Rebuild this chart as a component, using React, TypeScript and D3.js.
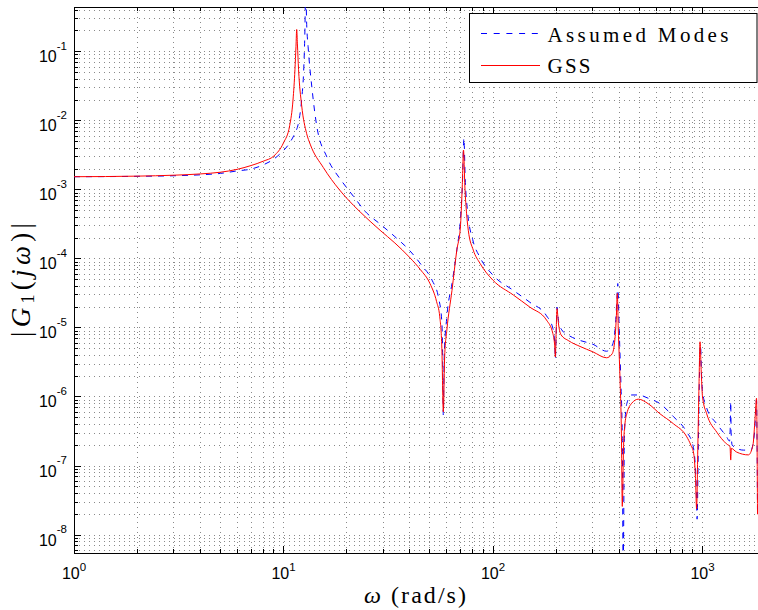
import React from 'react';
import * as d3 from 'd3';

// ---------- data ----------
const xMajorTicks = [1, 10, 100, 1000];
const xTickExponents = ['0', '1', '2', '3'];
const yMajorTicks = [1e-1, 1e-2, 1e-3, 1e-4, 1e-5, 1e-6, 1e-7, 1e-8];
const yTickExponents = ['-1', '-2', '-3', '-4', '-5', '-6', '-7', '-8'];

const seriesNames = ['Assumed Modes', 'GSS'];

// Assumed Modes (blue dashed): [omega (rad/s), |G1(jw)|]
const assumedModes: [number, number][] = [
  [1, 1.55e-3], [2, 1.57e-3], [3, 1.6e-3], [4, 1.65e-3], [5, 1.73e-3], [6, 1.88e-3],
  [7, 2.0e-3], [8, 2.3e-3], [9, 2.8e-3], [9.6, 3.3e-3], [10.7, 4.8e-3], [11.3, 6.5e-3],
  [11.8, 9.5e-3], [12.2, 0.02], [12.5, 0.06], [12.65, 0.2], [12.76, 0.9], [12.9, 0.25],
  [13.1, 0.12], [13.7, 0.028], [14.4, 8.5e-3], [16.1, 3.0e-3], [18.6, 1.45e-3], [20, 1.08e-3],
  [21.9, 7.6e-4], [24.5, 4.9e-4], [28.9, 3.2e-4], [34, 2.1e-4], [40.2, 1.3e-4], [45.6, 8.1e-5],
  [51.2, 4.9e-5], [55, 2.7e-5], [56.9, 1.3e-5], [57.5, 4e-6], [57.9, 5.5e-7], [58.5, 4e-6],
  [60.2, 1.45e-5], [63.7, 4.4e-5], [67.2, 1.35e-4], [70, 4e-4], [71.5, 1.3e-3], [72.6, 5.6e-3],
  [73.7, 1.4e-3], [75.5, 5e-4], [80, 1.9e-4], [86.7, 1.05e-4], [100, 5.8e-5], [125, 3.5e-5],
  [150, 2.35e-5], [180, 1.5e-5], [193, 9.9e-6], [197, 6e-6], [198.4, 3.6e-6], [200.5, 1e-5],
  [202, 2e-5], [206, 1.2e-5], [215, 9e-6], [233, 7.6e-6], [260, 6.6e-6], [300, 5.8e-6],
  [348, 4.6e-6], [370, 5.5e-6], [383, 1e-5], [390, 2.5e-5], [394, 4.4e-5], [400, 1e-5],
  [408, 1.5e-6], [414, 2.5e-7], [418, 3e-9], [424, 3e-7], [435, 8e-7], [459, 1.07e-6],
  [494, 1.07e-6], [550, 9.6e-7], [627, 8e-7], [726, 5.2e-7], [841, 3.1e-7], [900, 2e-7],
  [930, 7e-8], [942, 1.7e-8], [955, 2e-7], [965, 1.5e-6], [978, 5.6e-6], [990, 2e-6],
  [1000, 1.2e-6], [1047, 6.9e-7], [1169, 4.1e-7], [1303, 2.65e-7], [1345, 2.3e-7], [1357, 4e-7],
  [1363, 8.6e-7], [1370, 3e-7], [1385, 2e-7], [1570, 1.7e-7], [1700, 1.7e-7], [1770, 3e-7],
  [1810, 9e-7], [1830, 2e-8],
];

// GSS (red solid): [omega (rad/s), |G1(jw)|]
const gss: [number, number][] = [
  [1, 1.55e-3], [2, 1.58e-3], [3, 1.63e-3], [4, 1.7e-3], [5, 1.8e-3], [6, 1.98e-3],
  [7, 2.25e-3], [8, 2.6e-3], [9, 3.1e-3], [10, 4.8e-3], [10.7, 8.5e-3], [11.1, 0.02],
  [11.34, 0.055], [11.47, 0.12], [11.56, 0.21], [11.65, 0.13], [11.8, 0.055], [12.2, 0.017],
  [12.9, 6.5e-3], [13.4, 4.6e-3], [15.5, 2.1e-3], [18.5, 1.0e-3], [20, 7.6e-4], [23.2, 4.8e-4],
  [28.9, 2.6e-4], [34, 1.7e-4], [40, 1.05e-4], [45, 7e-5], [50, 4.4e-5], [53.8, 2.4e-5],
  [55.7, 1.45e-5], [57, 5e-6], [57.9, 6.1e-7], [58.8, 4e-6], [60.2, 9.3e-6], [63.7, 3.5e-5],
  [67.2, 1.35e-4], [69.8, 2.8e-4], [71.3, 1.1e-3], [72.3, 3.77e-3], [73.4, 1.1e-3], [74.8, 4.5e-4],
  [76.2, 2.6e-4], [80.5, 1.34e-4], [86.7, 8.6e-5], [100, 4.9e-5], [125, 3.0e-5], [150, 2.0e-5],
  [180, 1.3e-5], [193, 8.3e-6], [197, 5.5e-6], [198.4, 3.8e-6], [200, 8e-6], [202, 1.9e-5],
  [205, 1.2e-5], [211, 8e-6], [230, 6.5e-6], [260, 5.4e-6], [300, 4.5e-6], [348, 3.7e-6],
  [370, 4.2e-6], [382, 7e-6], [388, 1.5e-5], [392, 3.16e-5], [396, 1e-5], [404, 1.75e-6],
  [410, 3e-7], [414, 2.6e-8], [420, 2e-7], [426, 4e-7], [435, 5.7e-7], [459, 8.1e-7],
  [494, 9.3e-7], [550, 8e-7], [627, 5.7e-7], [726, 4.1e-7], [841, 2.65e-7], [880, 2e-7],
  [908, 1.5e-7], [925, 7e-8], [937, 2.4e-8], [950, 2e-7], [962, 1.5e-6], [973, 6.3e-6],
  [985, 2.5e-6], [1000, 1e-6], [1047, 5.7e-7], [1169, 3.1e-7], [1300, 2.1e-7], [1353, 1.9e-7],
  [1363, 1.22e-7], [1373, 1.8e-7], [1450, 1.6e-7], [1656, 1.45e-7], [1740, 2e-7], [1782, 5e-7],
  [1810, 9.6e-7], [1830, 2e-8],
];

const xDomain: [number, number] = [1, 2000];
const yDomain: [number, number] = [5.5e-9, 0.445];

// ---------- layout ----------
const W = 758;
const H = 610;
const PL = 74;
const PR = 765.6;
const PT = 7;
const PB = 553;

const TICK_FONT = "'Liberation Sans', Arial, Helvetica, sans-serif";
const SERIF = "'Liberation Serif', 'DejaVu Serif', serif";

export default function App() {
  const x = d3.scaleLog().domain(xDomain).range([PL, PR]);
  const y = d3.scaleLog().domain(yDomain).range([PB, PT]);

  const line = d3
    .line<[number, number]>()
    .x((d) => x(d[0]))
    .y((d) => y(d[1]))
    .curve(d3.curveMonotoneX);

  const xGrid: number[] = [];
  for (let k = 0; k <= 3; k++) for (let m = 1; m <= 9; m++) {
    const v = m * Math.pow(10, k);
    if (v >= xDomain[0] && v <= xDomain[1]) xGrid.push(v);
  }
  const yGrid: number[] = [];
  for (let k = -9; k <= -1; k++) for (let m = 1; m <= 9; m++) {
    const v = m * Math.pow(10, k);
    if (v >= yDomain[0] && v <= yDomain[1]) yGrid.push(v);
  }
  const isMajor = (v: number) => Math.abs(Math.log10(v) - Math.round(Math.log10(v))) < 1e-9;
  const cx = (v: number) => Math.floor(v) + 0.5;

  const legX = 469.5, legY = 13.5, legW = 287.5, legH = 69;

  return (
    <svg
      width={W}
      height={H}
      style={{ position: 'absolute', left: 0, top: 0, background: '#fff' }}
      xmlns="http://www.w3.org/2000/svg"
    >
      <rect x={0} y={0} width={W} height={H} fill="#fff" />
      <defs>
        <clipPath id="plotClip">
          <rect x={PL} y={PT} width={PR - PL} height={PB - PT} />
        </clipPath>
      </defs>

      {/* grid */}
      <g stroke="#8a8a8a" strokeWidth={1} strokeDasharray="1,4" fill="none">
        {xGrid.map((v, i) => (
          <line key={'gx' + i} x1={cx(x(v))} x2={cx(x(v))} y1={PT} y2={PB} />
        ))}
        {yGrid.map((v, i) => (
          <line key={'gy' + i} x1={PL} x2={PR} y1={cx(y(v))} y2={cx(y(v))} />
        ))}
      </g>

      {/* axes box */}
      <g stroke="#000" strokeWidth={1} fill="none">
        <line x1={PL + 0.5} x2={PL + 0.5} y1={PT} y2={PB + 1} />
        <line x1={PL} x2={PR} y1={PB + 0.5} y2={PB + 0.5} />
        <line x1={PL} x2={PR} y1={PT + 0.5} y2={PT + 0.5} />
        {xGrid.map((v, i) => {
          const len = isMajor(v) ? 7 : 4;
          const xx = cx(x(v));
          return (
            <g key={'tx' + i}>
              <line x1={xx} x2={xx} y1={PB} y2={PB - len} />
              <line x1={xx} x2={xx} y1={PT} y2={PT + len} />
            </g>
          );
        })}
        {yGrid.map((v, i) => {
          const len = isMajor(v) ? 7 : 4;
          const yy = cx(y(v));
          return <line key={'ty' + i} x1={PL} x2={PL + len} y1={yy} y2={yy} />;
        })}
      </g>

      {/* data */}
      <g clipPath="url(#plotClip)" fill="none">
        <path d={line(assumedModes) || ''} stroke="#0000ff" strokeWidth={1} strokeDasharray="6,6" />
        <path d={line(gss) || ''} stroke="#ff0000" strokeWidth={1} />
      </g>

      {/* tick labels */}
      <g fontFamily={TICK_FONT} fill="#000">
        {xMajorTicks.map((t, i) => (
          <text key={'xl' + i} x={x(t)} y={578.5} textAnchor="middle" fontSize={16}>
            <tspan>10</tspan>
            <tspan dy={-7.5} fontSize={11.5}>{xTickExponents[i]}</tspan>
          </text>
        ))}
        {yMajorTicks.map((t, i) => (
          <text key={'yl' + i} x={67} y={y(t) + 10.5} textAnchor="end" fontSize={16}>
            <tspan>10</tspan>
            <tspan dy={-12.2} fontSize={11.5}>{yTickExponents[i]}</tspan>
          </text>
        ))}
      </g>

      {/* axis labels */}
      <text
        x={415}
        y={603}
        textAnchor="middle"
        fontFamily={SERIF}
        fontSize={24}
        fill="#000"
        textLength={102}
        lengthAdjust="spacing"
      >
        <tspan fontStyle="italic">ω</tspan>
        <tspan> (rad/s)</tspan>
      </text>
      <text
        transform={`translate(30,280) rotate(-90)`}
        textAnchor="middle"
        fontFamily={SERIF}
        fontSize={27}
        fill="#000"
        textLength={114}
        lengthAdjust="spacing"
      >
        <tspan>|</tspan>
        <tspan fontStyle="italic">G</tspan>
        <tspan fontSize={18} dy={4}>1</tspan>
        <tspan dy={-4}>(</tspan>
        <tspan fontStyle="italic">jω</tspan>
        <tspan>)|</tspan>
      </text>

      {/* legend */}
      <g>
        <rect x={legX} y={legY} width={legW} height={legH} fill="#fff" stroke="#000" strokeWidth={1} />
        <line x1={481} x2={540} y1={33.5} y2={33.5} stroke="#0000ff" strokeWidth={1} strokeDasharray="6,6.7" />
        <line x1={481} x2={540} y1={65.5} y2={65.5} stroke="#ff0000" strokeWidth={1} />
        <text x={547.5} y={41.5} fontFamily={SERIF} fontSize={21} fill="#000" textLength={181} lengthAdjust="spacing">
          {seriesNames[0]}
        </text>
        <text x={547.5} y={73} fontFamily={SERIF} fontSize={21} fill="#000" textLength={43} lengthAdjust="spacing">
          {seriesNames[1]}
        </text>
      </g>
    </svg>
  );
}
